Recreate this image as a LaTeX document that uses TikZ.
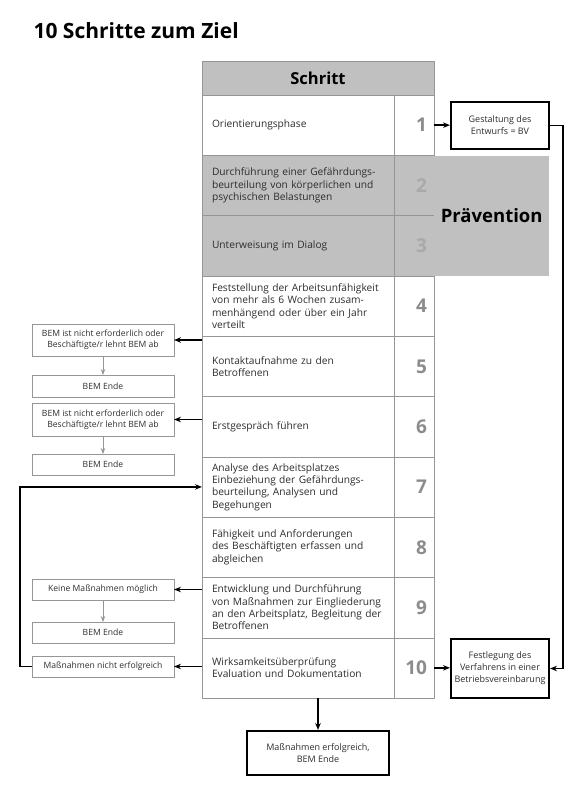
\documentclass[tikz,border=0pt]{standalone}
\usepackage{fontspec}
\setmainfont{Open Sans}
\usepackage{tikz}
\usetikzlibrary{arrows.meta, positioning}
\definecolor{schrittgrau}{RGB}{192,192,192}
\definecolor{linie}{RGB}{150,150,150}
\definecolor{zahl}{RGB}{140,140,140}
\definecolor{schrift}{RGB}{45,45,45}

\begin{document}
\begin{tikzpicture}[x=1pt, y=-1pt,
      row/.style={rectangle, draw=linie, outer sep=0pt, inner xsep=10pt,
        text width=172pt, minimum height=60.3pt, align=left, text=schrift,
        font=\fontsize{10.2}{12.3}\selectfont},
      num/.style={rectangle, draw=linie, outer sep=0pt, inner xsep=7pt,
        text width=26pt, minimum height=60.3pt, align=right, text=zahl,
        font=\fontsize{19}{20}\selectfont\bfseries},
      grey/.style={fill=schrittgrau},
      sbox/.style={rectangle, draw=linie, outer sep=0pt, minimum width=142pt,
        align=center, text=schrift, font=\fontsize{8.6}{11}\selectfont},
      bigbox/.style={rectangle, draw=black, line width=2pt, fill=white,
        align=center, text=schrift, font=\fontsize{9}{12}\selectfont},
      arr/.style={-{Stealth[length=7pt, width=5.5pt]}, line width=1.5pt},
      darr/.style={-{Stealth[length=6pt, width=4.5pt]}, draw=linie, line width=0.8pt}]
    \useasboundingbox (0,0) rectangle (581,798);
    \node[anchor=west, font=\fontsize{21}{24}\selectfont\bfseries] (title) at (30,31) {10 Schritte zum Ziel};

    % Tabelle
    \node[rectangle, draw=linie, fill=schrittgrau, outer sep=0pt, anchor=north west,
      minimum width=232pt, minimum height=34pt, font=\fontsize{16.5}{18}\selectfont\bfseries]
      (head) at (202,61) {Schritt};
    \node[row, below=0pt of head.south west, anchor=north west] (row1) {Orientierungsphase};
    \node[row, grey, below=0pt of row1] (row2) {Durchführung einer Gefährdungs-\\beurteilung von körperlichen und\\psychischen Belastungen};
    \node[row, grey, below=0pt of row2] (row3) {Unterweisung im Dialog};
    \node[row, below=0pt of row3] (row4) {Feststellung der Arbeitsunfähigkeit\\von mehr als 6 Wochen zusam-\\menhängend oder über ein Jahr\\verteilt};
    \node[row, below=0pt of row4] (row5) {Kontaktaufnahme zu den\\Betroffenen};
    \node[row, below=0pt of row5] (row6) {Erstgespräch führen};
    \node[row, below=0pt of row6] (row7) {Analyse des Arbeitsplatzes\\Einbeziehung der Gefährdungs-\\beurteilung, Analysen und\\Begehungen};
    \node[row, below=0pt of row7] (row8) {Fähigkeit und Anforderungen\\des Beschäftigten erfassen und\\abgleichen};
    \node[row, below=0pt of row8] (row9) {Entwicklung und Durchführung\\von Maßnahmen zur Eingliederung\\an den Arbeitsplatz, Begleitung der\\Betroffenen};
    \node[row, below=0pt of row9] (row10) {Wirksamkeitsüberprüfung\\Evaluation und Dokumentation};
    \node[num, right=0pt of row1] (num1) {1};
    \node[num, grey, text=zahl!75, right=0pt of row2] (num2) {2};
    \node[num, grey, text=zahl!75, right=0pt of row3] (num3) {3};
    \node[num, right=0pt of row4] (num4) {4};
    \node[num, right=0pt of row5] (num5) {5};
    \node[num, right=0pt of row6] (num6) {6};
    \node[num, right=0pt of row7] (num7) {7};
    \node[num, right=0pt of row8] (num8) {8};
    \node[num, right=0pt of row9] (num9) {9};
    \node[num, right=0pt of row10] (num10) {10};
    \node[rectangle, fill=schrittgrau, anchor=north west, minimum width=115pt, minimum height=120pt,
      font=\fontsize{18.5}{20}\selectfont\bfseries] (praev) at (num2.north east) {Prävention};

    % rechts
    \node[bigbox, minimum width=98pt, minimum height=47pt] (entw) at (500,125.5) {Gestaltung des\\Entwurfs = BV};
    \node[bigbox, minimum width=98pt, minimum height=59pt] (bv) at (500,668.5) {Festlegung des\\Verfahrens in einer\\Betriebsvereinbarung};
    \node[bigbox, minimum width=142pt, minimum height=44pt] (ende) at (318,753) {Maßnahmen erfolgreich,\\BEM Ende};

    % links
    \node[sbox, minimum height=32pt] (l5a) at (103,340) {BEM ist nicht erforderlich oder\\Beschäftigte/r lehnt BEM ab};
    \node[sbox, minimum height=22pt, below=19pt of l5a] (l5b) {BEM Ende};
    \node[sbox, minimum height=33pt] (l6a) at (103,419.5) {BEM ist nicht erforderlich oder\\Beschäftigte/r lehnt BEM ab};
    \node[sbox, minimum height=21pt, below=18pt of l6a] (l6b) {BEM Ende};
    \node[sbox, minimum height=21pt] (l9a) at (103,589.5) {Keine Maßnahmen möglich};
    \node[sbox, minimum height=21pt, below=22pt of l9a] (l9b) {BEM Ende};
    \node[sbox, minimum height=21pt] (l10) at (103,666.5) {Maßnahmen nicht erfolgreich};

    \draw[arr] (num1.east) -- (num1.east -| entw.west);
    \draw[arr] (entw.east) -- ++(13,0) |- (bv.east);
    \draw[arr] (num10.east) -- (num10.east -| bv.west);
    \draw[arr] (ende.north |- row10.south) -- (ende.north);
    \draw[arr] (l5a.east -| row5.west) -- (l5a.east);
    \draw[arr] (l6a.east -| row6.west) -- (l6a.east);
    \draw[arr] (l9a.east -| row9.west) -- (l9a.east);
    \draw[arr] (l10.east -| row10.west) -- (l10.east);
    \draw[arr] (l10.west) -- ++(-12,0) |- (row7.west);
    \draw[darr] (l5a) -- (l5b);
    \draw[darr] (l6a) -- (l6b);
    \draw[darr] (l9a) -- (l9b);
  \end{tikzpicture}
\end{document}
